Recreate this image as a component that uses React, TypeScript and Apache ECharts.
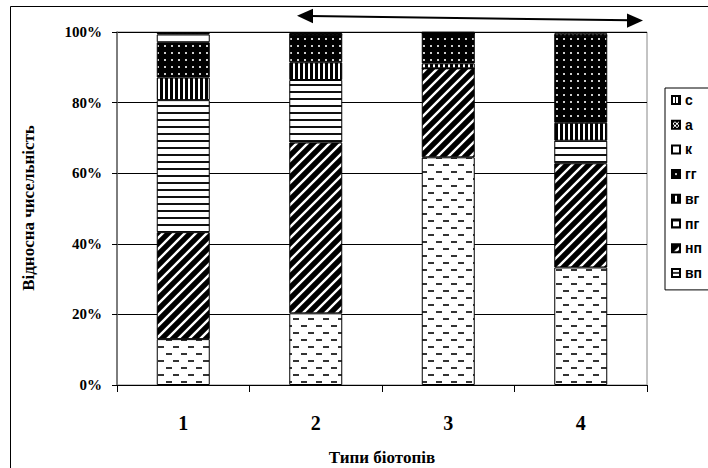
import React, { useEffect, useRef } from "react";
import * as echarts from "echarts";

const categories = ["1", "2", "3", "4"];
const yTickLabels = ["0%", "20%", "40%", "60%", "80%", "100%"];
const seriesNames = ["вп", "нп", "пг", "вг", "гг", "к", "а", "с"];
const vp = [13.0, 20.3, 64.5, 33.3];
const np = [30.3, 48.4, 25.2, 29.5];
const pg = [37.4, 17.7, 0, 6.4];
const vg = [6.4, 5.0, 1.4, 5.1];
const gg = [10.0, 7.8, 8.5, 24.6];
const kk = [2.2, 0, 0, 0];
const aa = [0.4, 0.5, 0.2, 0.6];
const ss = [0.3, 0.3, 0.2, 0.5];
const xAxisTitle = "Типи біотопів";
const yAxisTitle = "Відносна чисельність";

type Draw = (ctx: CanvasRenderingContext2D, w: number, h: number) => void;

function makeTile(w: number, h: number, draw: Draw) {
  const c = document.createElement("canvas");
  c.width = w;
  c.height = h;
  const ctx = c.getContext("2d") as CanvasRenderingContext2D;
  ctx.fillStyle = "#fff";
  ctx.fillRect(0, 0, w, h);
  draw(ctx, w, h);
  return { image: c, repeat: "repeat", imageWidth: w, imageHeight: h } as any;
}

function buildPatterns() {
  const dashes = makeTile(15, 14, (ctx) => {
    ctx.fillStyle = "#333";
    ctx.fillRect(1, 3, 6, 2);
    ctx.fillRect(8, 10, 6, 2);
  });
  const diag = makeTile(11, 11, (ctx) => {
    ctx.fillStyle = "#000";
    ctx.fillRect(0, 0, 11, 11);
    ctx.strokeStyle = "#fff";
    ctx.lineWidth = 2.4;
    ctx.beginPath();
    ctx.moveTo(-5.5, 5.5);
    ctx.lineTo(5.5, -5.5);
    ctx.moveTo(0, 11);
    ctx.lineTo(11, 0);
    ctx.moveTo(5.5, 16.5);
    ctx.lineTo(16.5, 5.5);
    ctx.stroke();
  });
  const horiz = makeTile(4, 7, (ctx) => {
    ctx.fillStyle = "#111";
    ctx.fillRect(0, 0, 4, 2);
  });
  const vert = makeTile(5, 4, (ctx) => {
    ctx.fillStyle = "#000";
    ctx.fillRect(0, 0, 3, 4);
  });
  const dots = makeTile(7, 7, (ctx) => {
    ctx.fillStyle = "#000";
    ctx.fillRect(0, 0, 7, 7);
    ctx.fillStyle = "#ccc";
    ctx.fillRect(3, 3, 2, 2);
  });
  const white = "#ffffff";
  const checker = makeTile(4, 4, (ctx) => {
    ctx.fillStyle = "#000";
    ctx.fillRect(0, 0, 2, 2);
    ctx.fillRect(2, 2, 2, 2);
  });
  const thinVert = makeTile(3, 3, (ctx) => {
    ctx.fillStyle = "#000";
    ctx.fillRect(0, 0, 1, 3);
  });
  return [dashes, diag, horiz, vert, dots, white, checker, thinVert];
}

export default function App() {
  const ref = useRef<HTMLDivElement>(null);

  useEffect(() => {
    if (!ref.current) return;
    const chart = echarts.init(ref.current, undefined, { renderer: "svg" });
    const patterns = buildPatterns();
    const values = [vp, np, pg, vg, gg, kk, aa, ss];

    const option: any = {
      animation: false,
      backgroundColor: "#fff",
      grid: {
        left: 117,
        top: 32,
        width: 530,
        height: 353,
        show: true,
        borderColor: "#888",
        borderWidth: 1,
      },
      legend: {
        data: [...seriesNames].reverse(),
        orient: "vertical",
        left: 665,
        top: 88,
        icon: "rect",
        itemWidth: 8,
        itemHeight: 8,
        itemGap: 10.7,
        padding: [5, 30, 10, 6],
        borderColor: "#000",
        borderWidth: 1,
        textStyle: {
          fontFamily: "Liberation Sans",
          fontWeight: "bold",
          fontSize: 14,
          color: "#000",
        },
      },
      xAxis: {
        type: "category",
        data: categories,
        axisLine: { show: true, lineStyle: { color: "#000", width: 1 } },
        axisTick: { show: true, length: 7, lineStyle: { color: "#000" } },
        axisLabel: {
          margin: 28,
          fontFamily: "Liberation Serif",
          fontWeight: "bold",
          fontSize: 20,
          color: "#000",
        },
        splitLine: { show: false },
      },
      yAxis: {
        type: "value",
        min: 0,
        max: 100,
        interval: 20,
        axisLine: { show: true, lineStyle: { color: "#666", width: 1.5 } },
        axisTick: { show: true, length: 5, lineStyle: { color: "#000" } },
        axisLabel: {
          margin: 15,
          formatter: (v: number) => yTickLabels[Math.round(v / 20)],
          fontFamily: "Liberation Serif",
          fontWeight: "bold",
          fontSize: 15,
          color: "#000",
        },
        splitLine: { show: true, lineStyle: { color: "#000", width: 1 } },
      },
      series: seriesNames.map((n, i) => ({
        name: n,
        type: "bar",
        stack: "total",
        barWidth: "40%",
        data: values[i],
        itemStyle: { color: patterns[i], borderColor: "#000", borderWidth: 1 },
        emphasis: { disabled: true },
      })),
      graphic: [
        {
          type: "rect",
          silent: true,
          z: -1,
          shape: { x: 10.5, y: 6.5, width: 800, height: 600 },
          style: { fill: "none", stroke: "#000", lineWidth: 1 },
        },
        {
          type: "line",
          silent: true,
          shape: { x1: 310, y1: 16, x2: 630, y2: 20.3 },
          style: { stroke: "#000", lineWidth: 2 },
        },
        {
          type: "polygon",
          silent: true,
          shape: { points: [[297, 15.8], [313, 8.8], [313, 23.2]] },
          style: { fill: "#000" },
        },
        {
          type: "polygon",
          silent: true,
          shape: { points: [[643, 20.6], [627, 13.4], [627, 27.8]] },
          style: { fill: "#000" },
        },
        {
          type: "text",
          silent: true,
          x: 382,
          y: 457,
          style: {
            text: xAxisTitle,
            font: 'bold 17px "Liberation Serif"',
            fill: "#000",
            textAlign: "center",
            textVerticalAlign: "middle",
            align: "center",
            verticalAlign: "middle",
          },
        },
        {
          type: "text",
          silent: true,
          x: 28,
          y: 208,
          rotation: Math.PI / 2,
          style: {
            text: yAxisTitle,
            font: 'bold 17px "Liberation Serif"',
            fill: "#000",
            textAlign: "center",
            textVerticalAlign: "middle",
            align: "center",
            verticalAlign: "middle",
          },
        },
      ],
    };
    chart.setOption(option);
    return () => chart.dispose();
  }, []);

  return (
    <div
      style={{
        position: "fixed",
        left: 0,
        top: 0,
        width: 708,
        height: 468,
        overflow: "hidden",
        background: "#fff",
      }}
    >
      <div ref={ref} style={{ width: 760, height: 500 }} />
    </div>
  );
}
